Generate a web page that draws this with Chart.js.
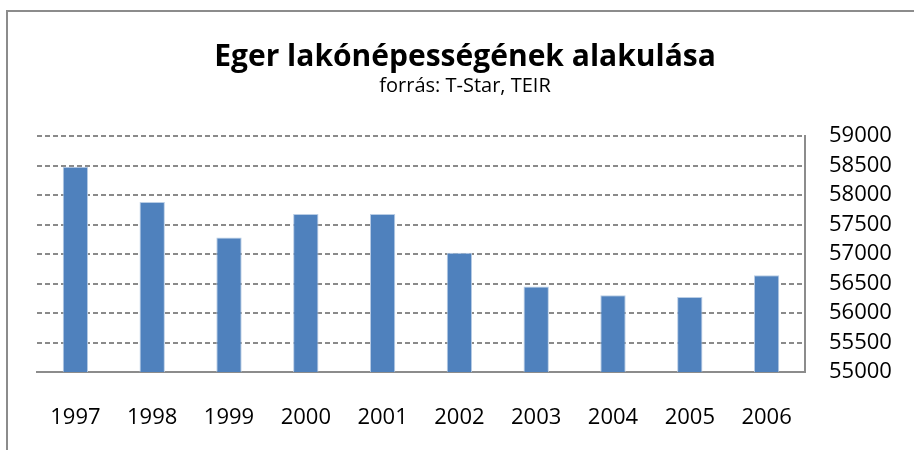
<!DOCTYPE html>
<html>
<head>
<meta charset="utf-8">
<script src="https://cdn.jsdelivr.net/npm/chart.js@4"></script>
<style>
  html, body { margin: 0; padding: 0; background: #fff; }
  #wrap { position: relative; width: 914px; height: 450px; overflow: hidden; }
  #frame { position: absolute; left: 6px; top: 10px; width: 1000px; height: 1000px;
           border-left: 2px solid #8c8c8c; border-top: 2px solid #8c8c8c; pointer-events: none; }
  canvas { position: absolute; left: 0; top: 0; }
</style>
</head>
<body>
<div id="wrap">
  <canvas id="c" width="914" height="450"></canvas>
  <div id="frame"></div>
</div>
<script>
const titleText = "Eger lakónépességének alakulása";
const subtitleText = "forrás: T-Star, TEIR";
const years = ["1997", "1998", "1999", "2000", "2001", "2002", "2003", "2004", "2005", "2006"];
const population = [58480, 57880, 57280, 57680, 57680, 57020, 56450, 56300, 56270, 56640];
const yMin = 55000;
const yMax = 59000;
const yStep = 500;

Chart.defaults.font.family = "'Open Sans', 'Noto Sans', sans-serif";
Chart.defaults.color = "#000";

new Chart(document.getElementById("c"), {
  type: "bar",
  data: {
    labels: years,
    datasets: [{
      data: population,
      backgroundColor: "#4F81BD",
      borderColor: "#B9CDE5",
      borderWidth: 1,
      categoryPercentage: 1,
      barPercentage: 0.33
    }]
  },
  options: {
    responsive: false,
    animation: false,
    layout: { padding: { left: 16, right: 0, top: 0, bottom: 22 } },
    plugins: {
      legend: { display: false },
      tooltip: { enabled: false },
      title: {
        display: true,
        text: titleText,
        color: "#000",
        font: { size: 30, weight: "bold", lineHeight: 1 },
        padding: { top: 42, bottom: 0 }
      },
      subtitle: {
        display: true,
        text: subtitleText,
        color: "#000",
        font: { size: 20, lineHeight: 1.2 },
        padding: { top: 2, bottom: 38 }
      }
    },
    scales: {
      x: {
        afterFit: (scale) => { scale.height = 56; },
        grid: { display: false, drawTicks: false },
        border: { display: true, color: "#8c8c8c", width: 2 },
        ticks: { font: { size: 22 }, color: "#000", padding: 33, maxRotation: 0, autoSkip: false }
      },
      y: {
        position: "right",
        min: yMin,
        max: yMax,
        afterFit: (scale) => { scale.width = 109; },
        grid: { color: "#8a8a8a", lineWidth: 2, drawTicks: false },
        border: { display: true, color: "#8c8c8c", width: 2, dash: [5, 3] },
        ticks: {
          stepSize: yStep,
          autoSkip: false,
          font: { size: 22 },
          color: "#000",
          padding: 24,
          callback: (v) => String(v)
        }
      },
      spacer: {
        type: "linear",
        position: "left",
        display: true,
        afterFit: (scale) => { scale.width = 21; },
        grid: { display: false, drawTicks: false },
        border: { display: false },
        ticks: { display: false }
      }
    }
  }
});
</script>
</body>
</html>
